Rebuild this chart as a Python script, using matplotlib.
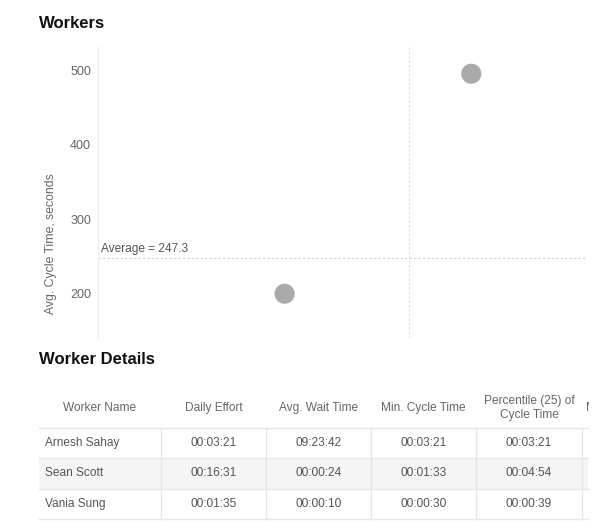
import matplotlib
matplotlib.use("Agg")
import matplotlib.pyplot as plt
from matplotlib.patches import Rectangle

plt.rcParams['font.family'] = ['Liberation Sans', 'DejaVu Sans']

# ---- data ----
workers = ["Arnesh Sahay", "Sean Scott", "Vania Sung"]
cycles_x = [1, 2]                 # visible points (x)
avg_cycle_y = [200, 495]          # visible points (y, seconds)
avg_line_value = 247.3
x_avg_value = 1.667
y_ticks = [200, 300, 400, 500]

col_headers = ["Worker Name", "Daily Effort", "Avg. Wait Time", "Min. Cycle Time",
               "Percentile (25) of\nCycle Time", "M"]
daily_effort = ["00:03:21", "00:16:31", "00:01:35"]
avg_wait = ["09:23:42", "00:00:24", "00:00:10"]
min_cycle = ["00:03:21", "00:01:33", "00:00:30"]
p25_cycle = ["00:03:21", "00:04:54", "00:00:39"]

W, H = 600, 531
fig = plt.figure(figsize=(W / 100, H / 100), dpi=100)
fig.patch.set_facecolor("white")

# ---- scatter chart ----
left, right, top, bottom = 98, 587, 46, 338
ax = fig.add_axes([left / W, (H - bottom) / H, (right - left) / W, (bottom - top) / H])
ax.set_xlim(0, 2.62)
ax.set_ylim(140.6, 532.2)
for s in ["top", "right", "bottom"]:
    ax.spines[s].set_visible(False)
ax.spines["left"].set_color("#eeeeee")
ax.spines["left"].set_linewidth(0.8)
ax.set_xticks([])
ax.set_yticks(y_ticks)
ax.tick_params(axis="y", length=0, pad=5, labelsize=9, labelcolor="#666666")
ax.set_ylabel("Avg. Cycle Time, seconds", fontsize=8.8, color="#666666")
ax.yaxis.set_label_coords(-0.084, 0.322)

ax.axhline(avg_line_value, color="#d0d0d0", linestyle=(0, (2, 2)), linewidth=0.8, zorder=1)
ax.axvline(x_avg_value, color="#dddddd", linestyle=(0, (2, 2)), linewidth=0.8, zorder=1)
ax.text(0.015, avg_line_value + 5, f"Average = {avg_line_value}", fontsize=8.6,
        color="#555555", ha="left", va="bottom")
ax.scatter(cycles_x, avg_cycle_y, s=210, color="#aaaaaa", edgecolors="none", zorder=3,
           clip_on=False)

fig.text(39 / W, 1 - 23 / H, "Workers", fontsize=12, fontweight="bold",
         color="#111111", ha="left", va="center")

# ---- table ----
tax = fig.add_axes([0, 0, 1, 1])
tax.set_xlim(0, W)
tax.set_ylim(H, 0)
tax.axis("off")
tax.text(39, 360, "Worker Details", fontsize=12, fontweight="bold",
         color="#111111", ha="left", va="center")

col_edges = [39, 161, 266, 371, 476, 582, 600]
row_edges = [428, 458, 489, 519]
header_y = 408

clip_rect = Rectangle((0, 0), 589, H, transform=tax.transData, visible=False)
tax.add_patch(clip_rect)

for i, h in enumerate(col_headers):
    cx = (col_edges[i] + col_edges[i + 1]) / 2
    if i == 5:
        t = tax.text(586, header_y, h, fontsize=8.6, color="#666666", ha="left", va="center")
        t.set_clip_path(clip_rect)
        t.set_clip_on(True)
        continue
    tax.text(cx, header_y, h, fontsize=8.6, color="#666666", ha="center", va="center",
             linespacing=1.15)

# zebra row
tax.add_patch(Rectangle((39, row_edges[1]), 549, row_edges[2] - row_edges[1],
                        facecolor="#f5f5f5", edgecolor="none", zorder=0))
for y in row_edges:
    tax.plot([39, 588], [y, y], color="#e6e6e6", linewidth=1.0, zorder=1)
for x in col_edges[1:6]:
    tax.plot([x, x], [row_edges[0], row_edges[-1]], color="#e6e6e6", linewidth=1.0, zorder=1)

columns = [daily_effort, avg_wait, min_cycle, p25_cycle]
for r, name in enumerate(workers):
    cy = (row_edges[r] + row_edges[r + 1]) / 2
    tax.text(45, cy, name, fontsize=8.6, color="#555555", ha="left", va="center")
    for c, col in enumerate(columns):
        cx = (col_edges[c + 1] + col_edges[c + 2]) / 2
        tax.text(cx, cy, col[r], fontsize=8.6, color="#555555", ha="center", va="center")

fig.savefig("out.png", dpi=100, facecolor="white")
